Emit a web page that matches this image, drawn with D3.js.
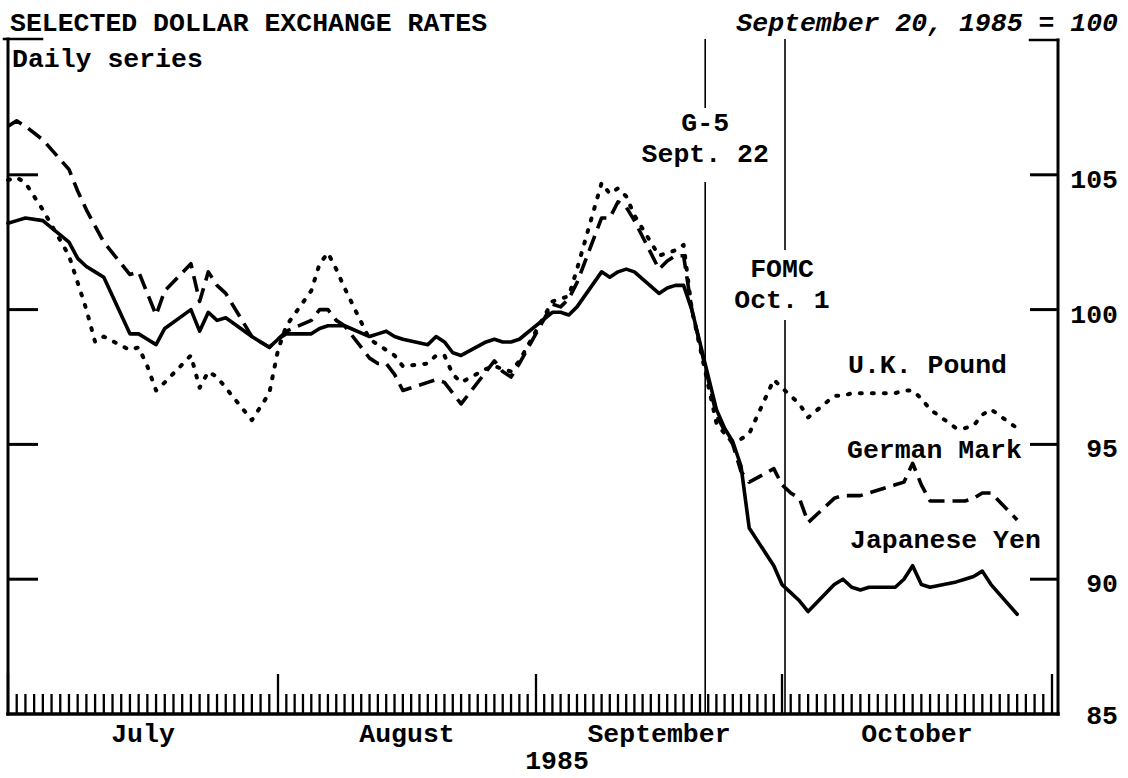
<!DOCTYPE html>
<html><head><meta charset="utf-8">
<script src="https://cdn.jsdelivr.net/npm/d3@7"></script>
<style>
body{margin:0;background:#fff;}
svg text{font-family:"Liberation Mono","DejaVu Sans Mono",monospace;font-weight:bold;fill:#000;font-size:26.5px;}
</style></head><body>
<svg id="c" width="1128" height="778"></svg>
<script>
// ---- data (index, September 20, 1985 = 100), business days ----
const dates = [
"1985-07-01","1985-07-02","1985-07-03","1985-07-05","1985-07-08","1985-07-09","1985-07-10","1985-07-11","1985-07-12",
"1985-07-15","1985-07-16","1985-07-17","1985-07-18","1985-07-19","1985-07-22","1985-07-23","1985-07-24","1985-07-25","1985-07-26",
"1985-07-29","1985-07-30","1985-07-31","1985-08-01","1985-08-02","1985-08-05","1985-08-06","1985-08-07","1985-08-08","1985-08-09",
"1985-08-12","1985-08-13","1985-08-14","1985-08-15","1985-08-16","1985-08-19","1985-08-20","1985-08-21","1985-08-22","1985-08-23",
"1985-08-26","1985-08-27","1985-08-28","1985-08-29","1985-08-30","1985-09-03","1985-09-04","1985-09-05","1985-09-06",
"1985-09-09","1985-09-10","1985-09-11","1985-09-12","1985-09-13","1985-09-16","1985-09-17","1985-09-18","1985-09-19","1985-09-20",
"1985-09-23","1985-09-24","1985-09-25","1985-09-26","1985-09-27","1985-09-30","1985-10-01","1985-10-02","1985-10-03","1985-10-04",
"1985-10-07","1985-10-08","1985-10-09","1985-10-10","1985-10-11","1985-10-14","1985-10-15","1985-10-16","1985-10-17","1985-10-18",
"1985-10-21","1985-10-22","1985-10-23","1985-10-24","1985-10-25","1985-10-28"];
const yen = [
103.2,103.3,103.4,103.3,102.5,101.9,101.6,101.4,101.2,
99.1,99.1,98.9,98.7,99.3,100.0,99.2,99.9,99.6,99.7,
99.0,98.8,98.6,98.9,99.1,99.1,99.3,99.4,99.4,99.4,
99.0,99.1,99.2,99.0,98.9,98.7,99.0,98.8,98.4,98.3,
98.8,98.9,98.8,98.8,98.9,99.9,99.9,99.8,100.1,
101.4,101.2,101.4,101.5,101.4,100.6,100.8,100.9,100.9,100.0,
96.3,95.6,95.1,94.2,91.9,90.5,89.8,89.5,89.2,88.8,
89.8,90.0,89.7,89.6,89.7,89.7,90.0,90.5,89.8,89.7,
89.9,90.0,90.1,90.3,89.8,88.7];
const mark = [
106.8,107.0,106.8,106.3,105.2,104.4,103.7,103.1,102.5,
101.3,101.4,100.6,99.8,100.7,101.7,100.3,101.4,100.9,100.6,
99.0,98.8,98.6,98.9,99.2,99.6,100.0,100.0,99.6,99.4,
98.2,98.0,98.0,97.6,97.0,97.3,97.4,97.3,96.9,96.5,
97.7,98.1,97.7,97.5,98.0,100.2,100.1,100.4,101.0,
103.4,103.4,104.0,103.8,103.3,101.5,101.8,102.0,102.0,100.0,
96.1,95.5,95.0,94.0,93.6,94.1,93.5,93.2,93.0,92.1,
93.0,93.1,93.1,93.1,93.2,93.5,93.6,94.3,93.5,92.9,
92.9,92.9,93.0,93.2,93.2,92.2];
const pound = [
104.8,104.9,104.7,103.7,102.0,101.0,100.0,98.8,99.0,
98.5,98.6,97.9,97.0,97.3,98.3,97.1,97.7,97.5,97.1,
95.9,96.4,96.9,98.5,99.4,100.7,101.7,102.1,101.5,100.8,
98.9,98.7,98.5,98.3,97.9,98.0,98.3,98.3,97.6,97.3,
97.8,97.9,97.8,97.7,98.1,100.3,100.4,100.5,101.5,
104.7,104.3,104.5,104.2,103.5,102.0,102.1,102.2,102.4,100.0,
95.8,95.4,95.1,95.2,95.4,97.4,97.1,96.8,96.5,96.0,
96.8,96.8,96.9,96.9,96.9,96.9,97.0,97.0,96.7,96.3,
95.6,95.6,95.7,96.1,96.3,95.6];
const seriesNames = ["U.K. Pound","German Mark","Japanese Yen"];
const monthStarts = ["1985-07-01","1985-08-01","1985-09-01","1985-10-01","1985-11-01"];
const monthLabels = ["July","August","September","October"];
const yTickValues = [85,90,95,100,105];
const eventDates = ["1985-09-22","1985-10-01"];
const eventLabels = [["G-5","Sept. 22"],["FOMC","Oct. 1"]];

// ---- drawing ----
const parse = d3.timeParse("%Y-%m-%d");
const svg = d3.select("#c");
const x = d3.scaleTime().domain(monthStarts.map(parse)).range([8,278,536,782,1052]);
const y = d3.scaleLinear().domain([85,110]).range([714,40]);
const L = 8, R = 1058, B = y(85), T = y(110);

// frame
const frame = svg.append("g").attr("stroke","#000").attr("fill","none").attr("stroke-linecap","square");
frame.append("line").attr("x1",L).attr("x2",L).attr("y1",T-1).attr("y2",B).attr("stroke-width",3);
frame.append("line").attr("x1",R).attr("x2",R).attr("y1",T).attr("y2",B).attr("stroke-width",3);
frame.append("line").attr("x1",L).attr("x2",R).attr("y1",B).attr("y2",B).attr("stroke-width",3.5);
frame.append("line").attr("x1",L-4).attr("x2",L+34).attr("y1",T-1).attr("y2",T-1).attr("stroke-width",2.5);
frame.append("line").attr("x1",R-28).attr("x2",R).attr("y1",T).attr("y2",T).attr("stroke-width",2.5);

// daily ticks
const days = d3.timeDay.range(parse("1985-07-01"), d3.timeDay.offset(parse("1985-11-01"),1));
svg.append("g").selectAll("line").data(days).join("line")
  .attr("x1",d=>x(d)).attr("x2",d=>x(d))
  .attr("y1",B).attr("y2",d=>d.getDate()===1 ? B-40 : B-20)
  .attr("stroke","#000").attr("stroke-width",2.3);

// y ticks (both sides) and labels
const yt = svg.append("g");
yt.selectAll("line.l").data(yTickValues.filter(v=>v>85)).join("line").attr("class","l")
  .attr("x1",L).attr("x2",L+30).attr("y1",d=>y(d)).attr("y2",d=>y(d)).attr("stroke","#000").attr("stroke-width",3);
yt.selectAll("line.r").data(yTickValues.filter(v=>v>85)).join("line").attr("class","r")
  .attr("x1",R-28).attr("x2",R).attr("y1",d=>y(d)).attr("y2",d=>y(d)).attr("stroke","#000").attr("stroke-width",3);
yt.selectAll("text").data(yTickValues).join("text")
  .attr("x",1118).attr("y",d=>y(d)+ (d===85?3:6)).attr("text-anchor","end").attr("dominant-baseline","middle")
  .text(d=>d);

// month labels
const mid = monthLabels.map((m,i)=>new Date((parse(monthStarts[i]).getTime()+parse(monthStarts[i+1]).getTime())/2));
svg.append("g").selectAll("text").data(monthLabels).join("text")
  .attr("x",(d,i)=>x(mid[i])).attr("y",742).attr("text-anchor","middle").text(d=>d);
svg.append("text").attr("x",557).attr("y",769).attr("text-anchor","middle").text("1985");

// event lines with labels
const evGaps = [[108,182],[250,320]];
const evBase = [[131,162],[277,308]];
eventDates.forEach((ds,i)=>{
  const ex = x(parse(ds)) - (i===0?3:-3);
  const g = svg.append("g");
  g.append("line").attr("x1",ex).attr("x2",ex).attr("y1",T-1).attr("y2",evGaps[i][0]).attr("stroke","#000").attr("stroke-width",1.6);
  g.append("line").attr("x1",ex).attr("x2",ex).attr("y1",evGaps[i][1]).attr("y2",B).attr("stroke","#000").attr("stroke-width",1.6);
  eventLabels[i].forEach((t,j)=>{
    g.append("text").attr("x",ex+(i===1?-3:0)).attr("y",evBase[i][j]).attr("text-anchor","middle").text(t);
  });
});

// series
const seriesData = [pound, mark, yen].map(arr => arr.map((v,i)=>({d:parse(dates[i]), v})));
const styles = [
  {w:4, dash:"2,10", cap:"round"},
  {w:3.6, dash:"16,8", cap:"butt"},
  {w:3.6, dash:null, cap:"round"}
];
const line = d3.line().x(p=>x(p.d)).y(p=>y(p.v)).curve(d3.curveLinear);
svg.append("g").selectAll("path").data(seriesData).join("path")
  .attr("d",line).attr("fill","none").attr("stroke","#000")
  .attr("stroke-width",(d,i)=>styles[i].w)
  .attr("stroke-dasharray",(d,i)=>styles[i].dash)
  .attr("stroke-linecap",(d,i)=>styles[i].cap)
  .attr("stroke-linejoin","round");

// series labels
const labelPos = [[848,373],[847,458],[850,548]];
svg.append("g").selectAll("text").data(seriesNames).join("text")
  .attr("x",(d,i)=>labelPos[i][0]).attr("y",(d,i)=>labelPos[i][1]).text(d=>d);

// titles
svg.append("text").attr("x",10).attr("y",31).text("SELECTED DOLLAR EXCHANGE RATES");
svg.append("text").attr("x",1118).attr("y",31).attr("text-anchor","end").attr("font-style","italic").text("September 20, 1985 = 100");
svg.append("text").attr("x",12).attr("y",67).text("Daily series");
</script>
</body></html>
